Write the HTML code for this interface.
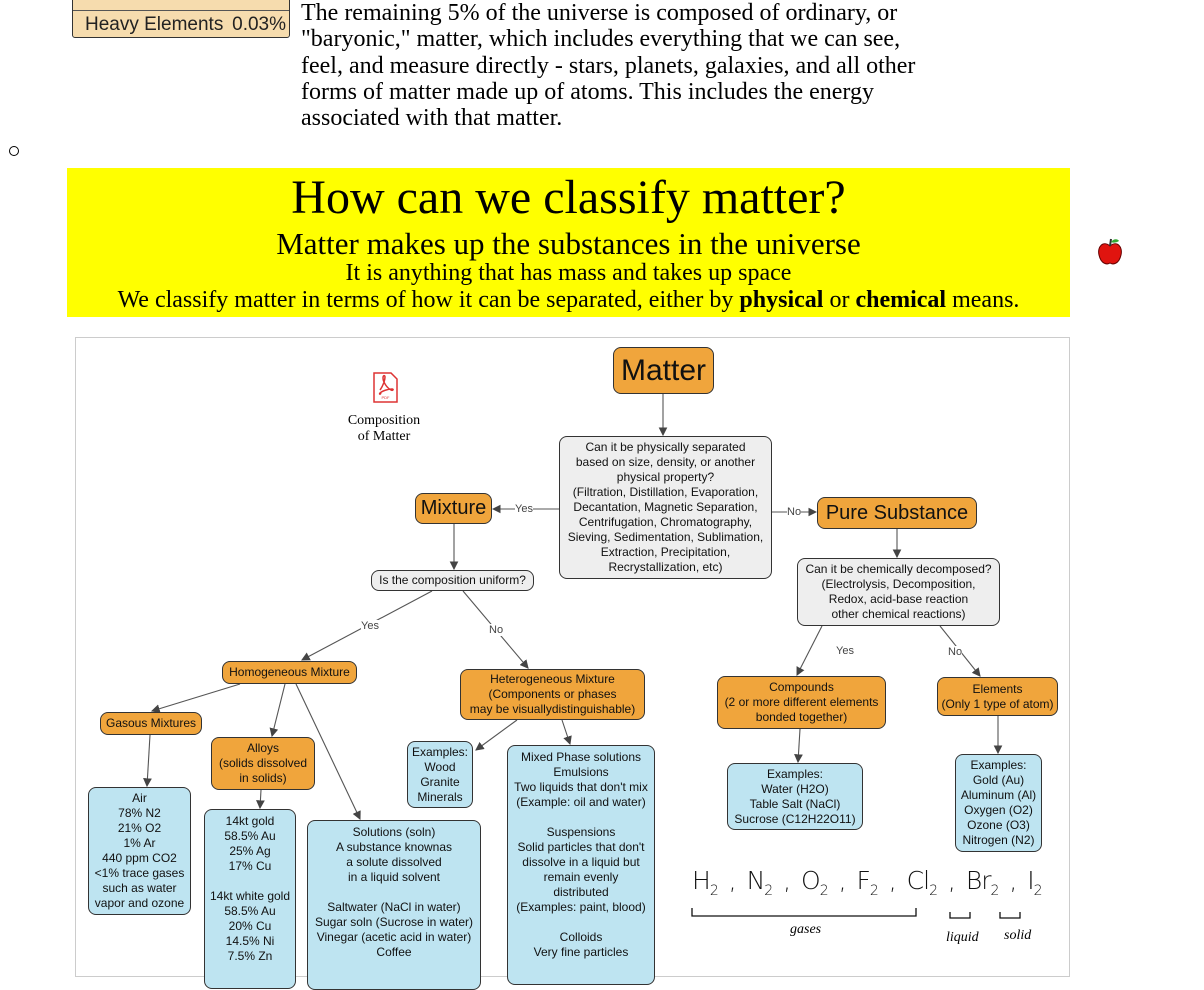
<!DOCTYPE html>
<html><head><meta charset="utf-8">
<style>
body{margin:0;width:1204px;height:960px;overflow:hidden;background:#fff;position:relative;font-family:"Liberation Serif",serif;}
.abs{position:absolute;}
.n{position:absolute;box-sizing:border-box;border:1px solid #333;border-radius:8px;display:flex;align-items:center;justify-content:center;text-align:center;font-family:"Liberation Sans",sans-serif;font-size:12px;line-height:15px;color:#111;}
.o{background:#f0a53c;}
.g{background:#eeeeee;}
.b{background:#bee4f1;}
.lbl{position:absolute;font-family:"Liberation Sans",sans-serif;font-size:11px;color:#444;background:#fff;line-height:12px;}
sub{font-size:14px;}
</style></head><body>
<div class="abs" style="left:72px;top:-4px;width:218px;height:42px;background:#f6dcae;border:1px solid #333;border-radius:3px;box-sizing:border-box;font-family:'Liberation Sans',sans-serif;">
 <div style="border-bottom:1px solid #555;height:13px;"></div>
 <div style="display:flex;justify-content:space-between;padding:3px 3px 0 12px;font-size:19px;color:#222;"><span>Heavy Elements</span><span>0.03%</span></div>
</div>
<div class="abs" style="left:301px;top:0px;width:622px;font-size:24px;line-height:26.3px;color:#000;">The remaining 5% of the universe is composed of ordinary, or "baryonic," matter, which includes everything that we can see, feel, and measure directly - stars, planets, galaxies, and all other forms of matter made up of atoms. This includes the energy associated with that matter.</div>
<div class="abs" style="left:9px;top:146px;width:8px;height:8px;border:1.5px solid #000;border-radius:50%;"></div>
<div class="abs" style="left:67px;top:168px;width:1003px;height:149px;background:#ffff00;text-align:center;color:#000;">
 <div style="font-size:48px;line-height:52px;margin-top:4px;">How can we classify matter?</div>
 <div style="font-size:31px;line-height:34px;margin-top:3px;">Matter makes up the substances in the universe</div>
 <div style="font-size:24px;line-height:27px;margin-top:-1px;">It is anything that has mass and takes up space</div>
 <div style="font-size:24px;line-height:27px;">We classify matter in terms of how it can be separated, either by <b>physical</b> or <b>chemical</b> means.</div>
</div>
<div class="abs" style="left:1097px;top:238px;width:26px;height:28px;">
 <svg width="26" height="28"><path d="M13 8 C6 2 0 9 2 17 C4 26 10 27 13 25 C16 27 22 26 24 17 C26 9 20 2 13 8Z" fill="#e0140f" stroke="#600" stroke-width="1"/><path d="M13 8 L14 1" stroke="#333" stroke-width="2"/><path d="M14 4 C17 0 21 1 22 3 C19 5 16 5 14 4Z" fill="#3a3"/></svg>
</div>
<div class="abs" style="left:75px;top:337px;width:995px;height:640px;border:1px solid #ccc;box-sizing:border-box;"></div>
<div class="abs" style="left:373px;top:372px;">
 <svg width="25" height="31"><path d="M1 1 H18 L24 7 V30 H1 Z" fill="#fff" stroke="#d33" stroke-width="1.5"/><path d="M7 18 C10 14 12 8 12 5 C12 3 10 3 10 6 C10 10 14 16 18 18 C20 19 21 17 19 17 C15 17 9 19 7 21 C6 22 7 23 8 21" fill="none" stroke="#d33" stroke-width="1.5"/><text x="12.5" y="27" font-size="4" text-anchor="middle" fill="#d33" font-family="Liberation Sans">PDF</text></svg>
</div>
<div class="abs" style="left:334px;top:413px;width:100px;text-align:center;font-size:14px;line-height:16px;">Composition<br>of Matter</div>

<svg class="abs" style="left:0;top:0" width="1204" height="960">
<defs><marker id="ar" markerWidth="8" markerHeight="8" refX="7" refY="4" orient="auto"><path d="M0 0 L8 4 L0 8Z" fill="#444"/></marker></defs>
<g stroke="#555" stroke-width="1.1" fill="none" marker-end="url(#ar)">
<line x1="663" y1="394" x2="663" y2="435"/>
<line x1="559" y1="509" x2="493" y2="509"/>
<line x1="772" y1="512" x2="816" y2="512"/>
<line x1="454" y1="524" x2="454" y2="569"/>
<line x1="897" y1="529" x2="897" y2="557"/>
<line x1="432" y1="591" x2="302" y2="660"/>
<line x1="463" y1="591" x2="528" y2="668"/>
<line x1="822" y1="626" x2="797" y2="675"/>
<line x1="940" y1="626" x2="980" y2="676"/>
<line x1="240" y1="684" x2="152" y2="711"/>
<line x1="285" y1="684" x2="272" y2="736"/>
<line x1="296" y1="684" x2="360" y2="819"/>
<line x1="150" y1="735" x2="147" y2="786"/>
<line x1="261" y1="790" x2="260" y2="808"/>
<line x1="517" y1="720" x2="476" y2="750"/>
<line x1="562" y1="720" x2="570" y2="744"/>
<line x1="800" y1="729" x2="798" y2="762"/>
<line x1="998" y1="716" x2="998" y2="753"/>
</g>
</svg>
<div class="lbl" style="left:515px;top:503px;">Yes</div>
<div class="lbl" style="left:787px;top:506px;">No</div>
<div class="lbl" style="left:361px;top:620px;">Yes</div>
<div class="lbl" style="left:489px;top:624px;">No</div>
<div class="lbl" style="left:836px;top:645px;">Yes</div>
<div class="lbl" style="left:948px;top:646px;">No</div>

<div class="n o" style="left:613px;top:347px;width:101px;height:47px;font-size:30px;line-height:32px;">Matter</div>
<div class="n g" style="left:559px;top:436px;width:213px;height:143px;">Can it be physically separated<br>based on size, density, or another<br>physical property?<br>(Filtration, Distillation, Evaporation,<br>Decantation, Magnetic Separation,<br>Centrifugation, Chromatography,<br>Sieving, Sedimentation, Sublimation,<br>Extraction, Precipitation,<br>Recrystallization, etc)</div>
<div class="n o" style="left:415px;top:493px;width:77px;height:31px;font-size:20px;">Mixture</div>
<div class="n o" style="left:817px;top:497px;width:160px;height:32px;font-size:20px;">Pure Substance</div>
<div class="n g" style="left:371px;top:570px;width:163px;height:21px;">Is the composition uniform?</div>
<div class="n g" style="left:797px;top:558px;width:203px;height:68px;">Can it be chemically decomposed?<br>(Electrolysis, Decomposition,<br>Redox, acid-base reaction<br>other chemical reactions)</div>
<div class="n o" style="left:222px;top:661px;width:135px;height:23px;">Homogeneous Mixture</div>
<div class="n o" style="left:460px;top:669px;width:185px;height:51px;">Heterogeneous Mixture<br>(Components or phases<br>may be visuallydistinguishable)</div>
<div class="n o" style="left:717px;top:676px;width:169px;height:53px;">Compounds<br>(2 or more different elements<br>bonded together)</div>
<div class="n o" style="left:937px;top:677px;width:121px;height:39px;">Elements<br>(Only 1 type of atom)</div>
<div class="n o" style="left:100px;top:712px;width:102px;height:23px;">Gasous Mixtures</div>
<div class="n o" style="left:211px;top:737px;width:104px;height:53px;">Alloys<br>(solids dissolved<br>in solids)</div>
<div class="n b" style="left:407px;top:741px;width:66px;height:67px;">Examples:<br>Wood<br>Granite<br>Minerals</div>
<div class="n b" style="left:507px;top:745px;width:148px;height:240px;align-items:flex-start;padding-top:4px;">Mixed Phase solutions<br>Emulsions<br>Two liquids that don't mix<br>(Example: oil and water)<br><br>Suspensions<br>Solid particles that don't<br>dissolve in a liquid but<br>remain evenly<br>distributed<br>(Examples: paint, blood)<br><br>Colloids<br>Very fine particles</div>
<div class="n b" style="left:727px;top:763px;width:136px;height:67px;">Examples:<br>Water (H2O)<br>Table Salt (NaCl)<br>Sucrose (C12H22O11)</div>
<div class="n b" style="left:955px;top:754px;width:87px;height:98px;">Examples:<br>Gold (Au)<br>Aluminum (Al)<br>Oxygen (O2)<br>Ozone (O3)<br>Nitrogen (N2)</div>
<div class="n b" style="left:88px;top:787px;width:103px;height:128px;">Air<br>78% N2<br>21% O2<br>1% Ar<br>440 ppm CO2<br>&lt;1% trace gases<br>such as water<br>vapor and ozone</div>
<div class="n b" style="left:204px;top:809px;width:92px;height:180px;align-items:flex-start;padding-top:4px;">14kt gold<br>58.5% Au<br>25% Ag<br>17% Cu<br><br>14kt white gold<br>58.5% Au<br>20% Cu<br>14.5% Ni<br>7.5% Zn</div>
<div class="n b" style="left:307px;top:820px;width:174px;height:170px;align-items:flex-start;padding-top:4px;">Solutions (soln)<br>A substance knownas<br>a solute dissolved<br>in a liquid solvent<br><br>Saltwater (NaCl in water)<br>Sugar soln (Sucrose in water)<br>Vinegar (acetic acid in water)<br>Coffee</div>

<div class="abs" style="left:692px;top:866px;font-family:'DejaVu Sans',sans-serif;font-weight:200;font-size:25px;color:#111;letter-spacing:-1px;word-spacing:4px;">H<sub>2</sub> , N<sub>2</sub> , O<sub>2</sub> , F<sub>2</sub> , Cl<sub>2</sub> , Br<sub>2</sub> , I<sub>2</sub></div>
<svg class="abs" style="left:680px;top:900px" width="380" height="40">
<g stroke="#111" stroke-width="1.3" fill="none"><path d="M12 8 V16 H236 V8"/><path d="M270 12 V18 H290 V12"/><path d="M320 12 V18 H340 V12"/></g>
</svg>
<div class="abs" style="left:790px;top:922px;font-style:italic;font-size:14px;">gases</div>
<div class="abs" style="left:946px;top:930px;font-style:italic;font-size:14px;">liquid</div>
<div class="abs" style="left:1004px;top:928px;font-style:italic;font-size:14px;">solid</div>
</body></html>
